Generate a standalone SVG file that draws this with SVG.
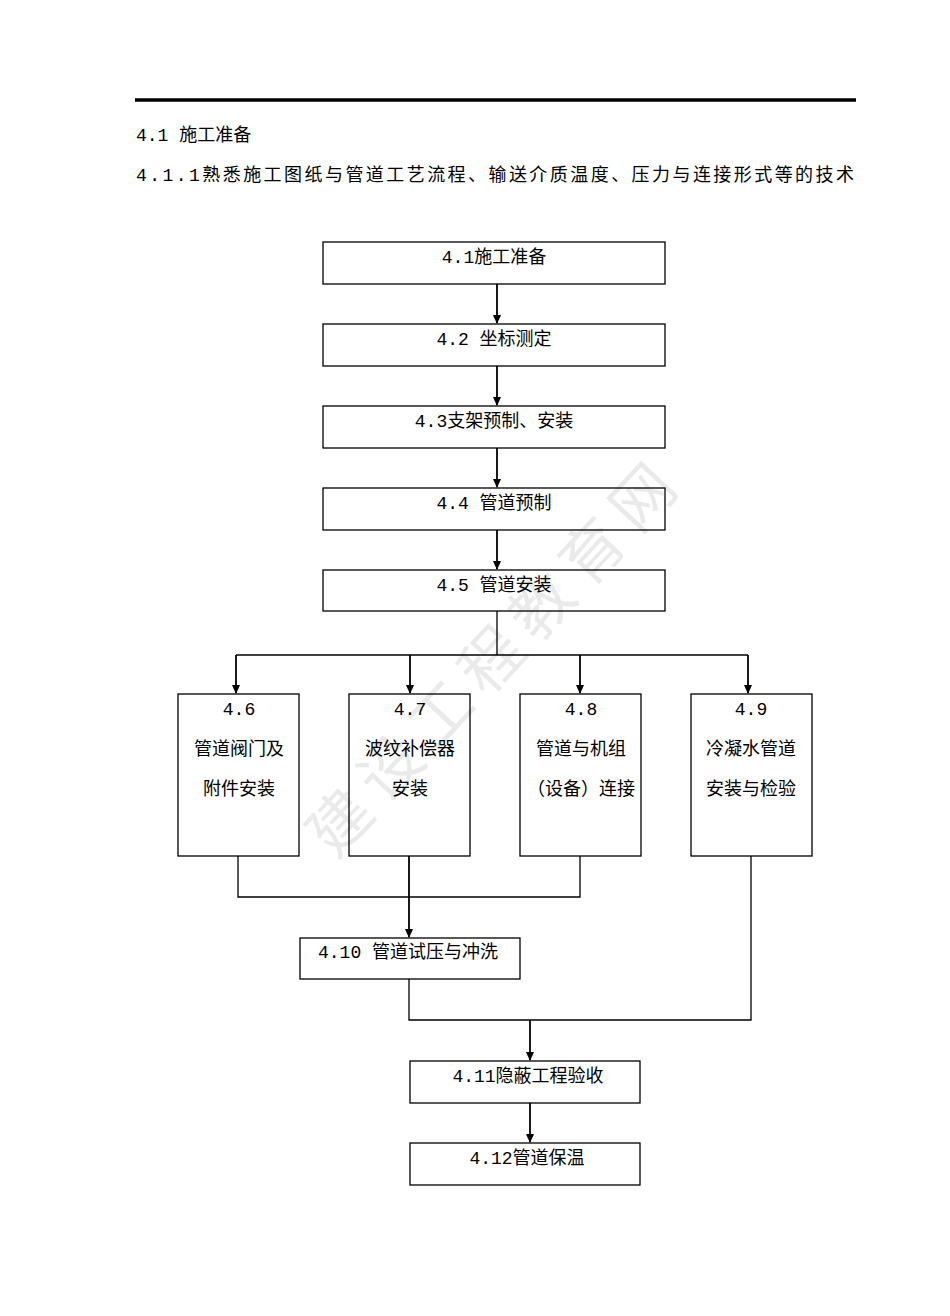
<svg xmlns="http://www.w3.org/2000/svg" width="950" height="1316" viewBox="0 0 950 1316">
<defs>
<marker id="a" markerWidth="10" markerHeight="10" refX="8" refY="5" orient="auto" markerUnits="userSpaceOnUse"><path d="M0,1 L9,5 L0,9 z" fill="#000"/></marker>
<style>
text{font-family:"Liberation Mono","Noto Sans CJK SC",monospace;font-size:18px;fill:#000}
.c{text-anchor:middle}
rect{fill:#fff;stroke:#000;stroke-width:1.3}
.l{stroke:#000;stroke-width:1.3;fill:none}
.ar{stroke:#000;stroke-width:1.8;fill:none;marker-end:url(#a)}
</style>
</defs>
<rect x="0" y="0" width="950" height="1316" style="stroke:none"/>
<line x1="135" y1="100" x2="856" y2="100" stroke="#000" stroke-width="3.5"/>
<text x="136" y="141">4.1 施工准备</text>
<text x="136" y="181" textLength="718" lengthAdjust="spacing">4.1.1熟悉施工图纸与管道工艺流程、输送介质温度、压力与连接形式等的技术</text>
<g id="connectors">
<line class="ar" x1="497" y1="284" x2="497" y2="323"/>
<line class="ar" x1="497" y1="366" x2="497" y2="405"/>
<line class="ar" x1="497" y1="448" x2="497" y2="487"/>
<line class="ar" x1="497" y1="530" x2="497" y2="569"/>
<polyline class="l" points="497,611 497,655"/>
<line class="l" x1="236" y1="655" x2="748" y2="655"/>
<line class="ar" x1="236" y1="655" x2="236" y2="693"/>
<line class="ar" x1="410" y1="655" x2="410" y2="693"/>
<line class="ar" x1="580" y1="655" x2="580" y2="693"/>
<line class="ar" x1="748" y1="655" x2="748" y2="693"/>
<polyline class="l" points="238,856 238,897 580,897 580,856"/>
<line class="ar" x1="409" y1="856" x2="409" y2="937"/>
<polyline class="l" points="409,979 409,1020 751,1020 751,856"/>
<line class="ar" x1="530" y1="1020" x2="530" y2="1060"/>
<line class="ar" x1="530" y1="1103" x2="530" y2="1142"/>
</g>
<g id="n1"><rect x="323" y="242" width="342" height="42"/><text class="c" x="494" y="263">4.1施工准备</text></g>
<g id="n2"><rect x="323" y="324" width="342" height="42"/><text class="c" x="494" y="345">4.2 坐标测定</text></g>
<g id="n3"><rect x="323" y="406" width="342" height="42"/><text class="c" x="494" y="427">4.3支架预制、安装</text></g>
<g id="n4"><rect x="323" y="488" width="342" height="42"/><text class="c" x="494" y="509">4.4 管道预制</text></g>
<g id="n5"><rect x="323" y="570" width="342" height="41"/><text class="c" x="494" y="591">4.5 管道安装</text></g>
<g id="n6"><rect x="178" y="694" width="121" height="162"/><text class="c" x="239" y="715">4.6</text><text class="c" x="239" y="755">管道阀门及</text><text class="c" x="239" y="795">附件安装</text></g>
<g id="n7"><rect x="349" y="694" width="121" height="162"/><text class="c" x="410" y="715">4.7</text><text class="c" x="410" y="755">波纹补偿器</text><text class="c" x="410" y="795">安装</text></g>
<g id="n8"><rect x="520" y="694" width="121" height="162"/><text class="c" x="581" y="715">4.8</text><text class="c" x="581" y="755">管道与机组</text><text class="c" x="581" y="795">（设备）连接</text></g>
<g id="n9"><rect x="691" y="694" width="121" height="162"/><text class="c" x="751" y="715">4.9</text><text class="c" x="751" y="755">冷凝水管道</text><text class="c" x="751" y="795">安装与检验</text></g>
<g id="n10"><rect x="300" y="938" width="220" height="41"/><text class="c" x="408" y="958">4.10 管道试压与冲洗</text></g>
<g id="n11"><rect x="410" y="1061" width="230" height="42"/><text class="c" x="528" y="1082">4.11隐蔽工程验收</text></g>
<g id="n12"><rect x="410" y="1143" width="230" height="42"/><text class="c" x="527" y="1164">4.12管道保温</text></g>
<text x="0" y="0" transform="translate(335,860) rotate(-47)" style="font-size:62px;fill:#000;opacity:0.08;letter-spacing:12px">建设工程教育网</text>
</svg>
